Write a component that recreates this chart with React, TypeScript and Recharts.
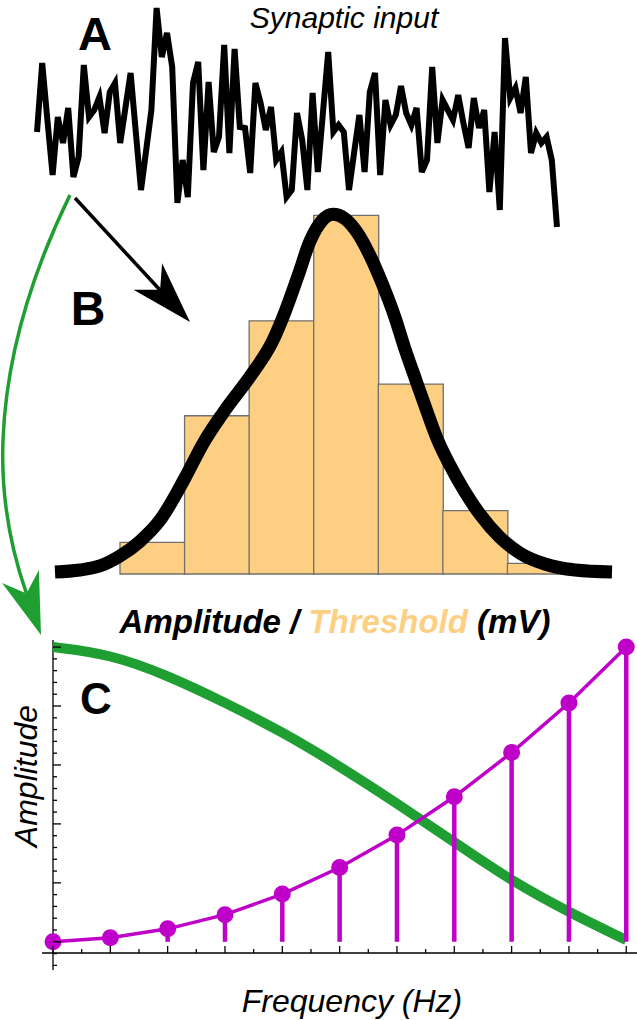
import React from 'react';
import {
  LineChart,
  Line,
  XAxis,
  YAxis,
  BarChart,
  Bar,
  ComposedChart,
  ErrorBar,
  ReferenceLine,
} from 'recharts';

const FONT = '"Liberation Sans", Arial, Helvetica, sans-serif';
const ORANGE = '#FDCF82';
const GREEN = '#1F9E32';
const PURPLE = '#BF00C9';

// ---------- Panel A: synaptic input trace ----------
const synapticInput = [
  10.8, 17.7, 12.0, 6.5, 12.3, 9.7, 13.2, 6.3, 8.3, 17.5,
  12.3, 13.0, 14.3, 10.7, 14.8, 15.7, 9.7, 13.2, 16.7, 10.8,
  5.0, 9.0, 13.0, 23.2, 18.3, 20.7, 17.3, 3.7, 8.0, 4.3,
  15.7, 17.8, 7.0, 15.8, 8.8, 10.3, 19.5, 8.7, 19.1, 11.3,
  11.2, 6.7, 15.7, 13.7, 11.0, 13.3, 8.0, 8.8, 4.3, 5.0,
  12.7, 10.0, 5.0, 14.7, 6.8, 12.8, 18.8, 10.8, 11.5, 10.8,
  5.0, 8.8, 12.5, 6.8, 14.8, 16.7, 6.5, 14.0, 11.5, 12.5,
  15.4, 12.7, 11.5, 13.2, 6.8, 8.0, 17.3, 9.7, 14.0, 13.0,
  12.0, 14.5, 11.7, 9.2, 14.2, 11.2, 13.0, 4.8, 10.8, 3.0,
  20.2, 14.2, 15.2, 12.7, 16.3, 8.7, 10.7, 9.7, 10.3, 8.0,
  1.3,
];

// ---------- Panel B: histogram + density ----------
const binLabels = ['b1', 'b2', 'b3', 'b4', 'b5', 'b6', 'b7'];
const binCounts = [3, 15, 24, 34, 18, 6, 1];
const histTicks = [0, 0.5, 1, 1.5, 2, 2.5, 3, 3.5, 4, 4.5, 5, 5.5, 6, 6.5, 7];
const densityX = [
  -1.006, -0.62, -0.31, 0, 0.31, 0.62, 1.006, 1.29, 1.6, 2.06, 2.35, 2.56, 2.76,
  2.94, 3.13, 3.3, 3.48, 3.67, 3.87, 4.07, 4.26, 4.41, 4.57, 4.72, 4.92, 5.11,
  5.34, 5.57, 5.88, 6.19, 6.58, 7.05, 7.62,
];
const densityY = [
  0.19, 0.38, 0.76, 1.7, 3.1, 5.1, 9.1, 12.4, 15.3, 19.1, 21.9, 24.9, 28.3,
  31.5, 33.5, 34.1, 33.7, 32.4, 30.2, 27.4, 24.3, 21.4, 18.6, 16.0, 12.7, 10.3,
  7.8, 5.7, 3.5, 2.0, 0.95, 0.38, 0.19,
];

// ---------- Panel C: frequency response ----------
const freqIndex = [0, 1, 2, 3, 4, 5, 6, 7, 8, 9, 10];
const purpleAmp = [0, 0.07, 0.22, 0.46, 0.81, 1.26, 1.81, 2.46, 3.21, 4.05, 5.0];
const greenAmp = [5.0, 4.88, 4.52, 4.06, 3.56, 2.98, 2.35, 1.69, 1.03, 0.5, 0.03];
const freqTicks = [
  0, 0.5, 1, 1.5, 2, 2.5, 3, 3.5, 4, 4.5, 5, 5.5, 6, 6.5, 7, 7.5, 8, 8.5, 9, 9.5, 10,
];
const ampTicks = [
  -0.4, -0.2, 0, 0.2, 0.4, 0.6, 0.8, 1, 1.2, 1.4, 1.6, 1.8, 2, 2.2, 2.4, 2.6, 2.8,
  3, 3.2, 3.4, 3.6, 3.8, 4, 4.2, 4.4, 4.6, 4.8, 5,
];

const synapticData = synapticInput.map((v, i) => ({ t: i, v }));
const histData = binLabels.map((b, i) => ({ bin: b, count: binCounts[i] }));
const densityData = densityX.map((u, i) => ({ u, c: densityY[i] }));
const purpleData = freqIndex.map((f, i) => ({ f, p: purpleAmp[i] }));
const greenData = freqIndex.map((f, i) => ({ f, g: greenAmp[i] }));

const isMajor = (v: number) => Math.abs(v - Math.round(v)) < 1e-6;

const HistTick = (props: any) => (
  <line x1={props.x} x2={props.x} y1={props.y} y2={props.y - 5} stroke="#555" strokeWidth={1.2} />
);

const FreqTick = (props: any) => {
  const len = isMajor(props.payload.value) ? 7 : 4;
  return <line x1={props.x} x2={props.x} y1={props.y} y2={props.y - len} stroke="#000" strokeWidth={1.3} />;
};

const AmpTick = (props: any) => {
  const len = isMajor(props.payload.value) ? 8 : 4;
  return <line x1={props.x} x2={props.x + len} y1={props.y} y2={props.y} stroke="#000" strokeWidth={1.3} />;
};

export default function App() {
  return (
    <div
      style={{
        position: 'absolute',
        left: 0,
        top: 0,
        width: 637,
        height: 1020,
        background: '#fff',
        fontFamily: FONT,
        overflow: 'hidden',
      }}
    >
      {/* Panel A */}
      <div style={{ position: 'absolute', left: 0, top: 0 }}>
        <LineChart width={637} height={240} data={synapticData} margin={{ top: 8, right: 80, bottom: 13, left: 37 }}>
          <XAxis dataKey="t" type="number" domain={[0, 100]} hide />
          <YAxis type="number" domain={[1.3, 23.2]} hide />
          <Line
            dataKey="v"
            type="linear"
            stroke="#000"
            strokeWidth={6}
            dot={false}
            activeDot={false}
            isAnimationActive={false}
          />
        </LineChart>
      </div>

      {/* Panel B: bars */}
      <div style={{ position: 'absolute', left: 0, top: 140 }}>
        <BarChart
          width={637}
          height={450}
          data={histData}
          margin={{ top: 12, right: 65, bottom: 15, left: 120 }}
          barCategoryGap={0}
          barGap={0}
        >
          <XAxis xAxisId="c" dataKey="bin" hide />
          <XAxis
            xAxisId="t"
            type="number"
            domain={[0, 7]}
            allowDataOverflow
            ticks={histTicks}
            interval={0}
            height={1}
            tickSize={0}
            tickMargin={0}
            tickLine={false}
            tick={HistTick}
            axisLine={{ stroke: '#555', strokeWidth: 1.2 }}
          />
          <YAxis type="number" domain={[0, 40]} hide />
          <Bar
            xAxisId="c"
            dataKey="count"
            fill={ORANGE}
            stroke="#707070"
            strokeWidth={1.3}
            isAnimationActive={false}
          />
        </BarChart>
      </div>

      {/* Panel B: density curve */}
      <div style={{ position: 'absolute', left: 0, top: 140 }}>
        <LineChart width={637} height={450} data={densityData} margin={{ top: 12, right: 25, bottom: 16, left: 55 }}>
          <XAxis dataKey="u" type="number" domain={[-1.006, 7.62]} hide />
          <YAxis type="number" domain={[0, 40]} hide />
          <Line
            dataKey="c"
            type="monotone"
            stroke="#000"
            strokeWidth={13}
            dot={false}
            activeDot={false}
            isAnimationActive={false}
          />
        </LineChart>
      </div>

      {/* Panel C */}
      <div style={{ position: 'absolute', left: 0, top: 630 }}>
        <ComposedChart width={637} height={340} margin={{ top: 10, right: 5, bottom: 16, left: 52 }}>
          <XAxis
            dataKey="f"
            type="number"
            domain={[0, 10.1]}
            ticks={freqTicks}
            interval={0}
            height={1}
            tickSize={0}
            tickMargin={0}
            tickLine={false}
            axisLine={false}
            tick={FreqTick}
          />
          <YAxis
            type="number"
            domain={[-0.19, 5.12]}
            ticks={ampTicks}
            interval={0}
            width={1}
            tickSize={0}
            tickMargin={0}
            tickLine={false}
            axisLine={false}
            tick={AmpTick}
          />
          <ReferenceLine
            segment={[
              { x: 0, y: -0.48 },
              { x: 0, y: 5.12 },
            ]}
            stroke="#000"
            strokeWidth={1.3}
            ifOverflow="visible"
          />
          <ReferenceLine
            segment={[
              { x: -0.19, y: -0.19 },
              { x: 10.2, y: -0.19 },
            ]}
            stroke="#000"
            strokeWidth={1.3}
            ifOverflow="visible"
          />
          <Line
            data={greenData}
            dataKey="g"
            type="basis"
            stroke={GREEN}
            strokeWidth={10}
            dot={false}
            activeDot={false}
            isAnimationActive={false}
          />
          <Line
            data={purpleData}
            dataKey="p"
            type="linear"
            stroke={PURPLE}
            strokeWidth={3.5}
            dot={{ r: 8.5, fill: PURPLE, stroke: PURPLE, strokeWidth: 0 }}
            activeDot={false}
            isAnimationActive={false}
          >
            <ErrorBar
              dataKey={(d: any) => [d.p, 0]}
              direction="y"
              width={0}
              stroke={PURPLE}
              strokeWidth={4.5}
              isAnimationActive={false}
            />
          </Line>
        </ComposedChart>
      </div>

      {/* Annotations */}
      <svg
        width={637}
        height={1020}
        style={{ position: 'absolute', left: 0, top: 0, pointerEvents: 'none' }}
        fontFamily={FONT}
      >
        <text x={344} y={28} fontSize={30} fontStyle="italic" textAnchor="middle" fill="#000">
          Synaptic input
        </text>
        <text x={95} y={50} fontSize={47} fontWeight="bold" textAnchor="middle" fill="#000">
          A
        </text>
        <text x={88} y={325} fontSize={48} fontWeight="bold" textAnchor="middle" fill="#000">
          B
        </text>
        <text x={96} y={714} fontSize={44} fontWeight="bold" textAnchor="middle" fill="#000">
          C
        </text>
        <text x={335} y={633} fontSize={33} fontWeight="bold" fontStyle="italic" textAnchor="middle" fill="#000">
          <tspan>Amplitude / </tspan>
          <tspan fill={ORANGE}>Threshold</tspan>
          <tspan> (mV)</tspan>
        </text>
        <text
          transform="translate(37,776) rotate(-90)"
          fontSize={32}
          fontStyle="italic"
          textAnchor="middle"
          fill="#000"
        >
          Amplitude
        </text>
        <text x={352} y={1012} fontSize={32} fontStyle="italic" textAnchor="middle" fill="#000">
          Frequency (Hz)
        </text>

        {/* black arrow A -> B */}
        <line x1={75} y1={198} x2={160} y2={290} stroke="#000" strokeWidth={3.5} />
        <polygon points="190,322 133.5,289.8 160.1,289.7 162.1,263.2" fill="#000" />

        {/* green arrow A -> C */}
        <path d="M70,195 Q7.5,323 3,440 Q0,518 26.5,593.5" fill="none" stroke={GREEN} strokeWidth={3.5} />
        <polygon points="41,635 2.1,583 26.5,593.5 38.9,570" fill={GREEN} />
      </svg>
    </div>
  );
}
